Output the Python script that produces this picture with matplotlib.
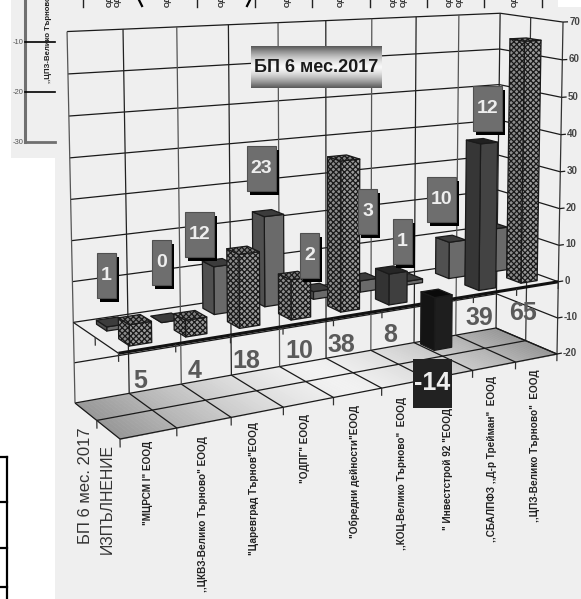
#!/usr/bin/env python3
"""3-D column chart: БП 6 мес.2017 against ИЗПЪЛНЕНИЕ, per municipal company."""

import numpy as np
import matplotlib
matplotlib.use("Agg")
import matplotlib.pyplot as plt
from matplotlib.patches import Rectangle
from mpl_toolkits.mplot3d import proj3d
from mpl_toolkits.mplot3d.art3d import Poly3DCollection

W, H = 581, 599

categories = ['"МЦРСМ I" ЕООД', ',,ЦКВЗ-Велико Търново" ЕООД', '"Царевград Търнов"ЕООД',
              '"ОДПГ" ЕООД', '"Обредни дейности"ЕООД', ',,КОЦ-Велико Търново"  ЕООД',
              '" Инвестстрой 92 "ЕООД', ',,СБАЛПФЗ ,,Д-р Трейман"  ЕООД',
              ',,ЦПЗ-Велико Търново"  ЕООД']
series_names = ["ИЗПЪЛНЕНИЕ", "БП 6 мес. 2017"]
actual = [5, 4, 18, 10, 38, 8, -14, 39, 65]
budget = [1, 0, 12, 23, 2, 3, 1, 10, 12]
value_ticks = [-20, -10, 0, 10, 20, 30, 40, 50, 60, 70]
title = "БП 6 мес.2017"

# layout, in picture pixels
actual_label_xy = [(140, 381), (195, 371), (246, 361), (299, 351), (341, 345),
                   (390, 335), (432, 383), (479, 318), (523, 313)]
budget_box_xy = [(106.5, 253), (161.5, 240), (199.5, 212), (261.5, 146), (309.5, 233),
                 (367.5, 189), (402.5, 219), (441.5, 177), (487.5, 86)]
cat_label_xy = [(148, 441), (203, 436), (254, 422), (305, 414), (355, 405),
                (402, 397), (448, 408), (492, 376), (535, 370)]

BG = "#efefef"
plt.rcParams["font.family"] = ["Liberation Sans", "DejaVu Sans"]
plt.rcParams["hatch.linewidth"] = 0.9

fig = plt.figure(figsize=(W / 100, H / 100), dpi=100, facecolor="white")


def pixel_axes(zorder):
    ax = fig.add_axes([0, 0, 1, 1], zorder=zorder)
    ax.set_xlim(0, W)
    ax.set_ylim(H, 0)
    ax.axis("off")
    return ax


# --- what is behind the chart ------------------------------------------------
back = pixel_axes(0)
back.add_patch(Rectangle((55, 0), W - 55, H, color=BG, lw=0))
back.add_patch(Rectangle((11, 0), 44, 158, color=BG, lw=0))
back.add_patch(Rectangle((558, 0), W - 558, 7, color="white", lw=0))
back.plot([25, 25], [0, 142], color="#707070", lw=2.2)
for y, lab, col in [(42, "-10", "black"), (92, "-20", "black"), (142, "-30", "#707070")]:
    back.plot([25, 55], [y, y], color=col, lw=1.2 if col == "black" else 2)
    back.text(18, y, lab, ha="center", va="center", fontsize=5.5, color="#555555")
back.text(49, 83, ",,ЦПЗ-Велико Търново", rotation=90, ha="center", va="bottom",
          fontsize=5.6, fontweight="bold", color="#222222")
for x in [83, 197, 255, 312, 370, 427, 484, 542]:
    back.plot([x, x], [0, 7], color="#222222", lw=1)
back.plot([139, 142], [0, 6], color="black", lw=1.6)
back.plot([247, 250], [6, 0], color="black", lw=1.6)
for x in [110, 118, 168, 222, 288, 341, 394, 404, 450, 460, 515]:
    back.text(x, 7, "ОД", rotation=90, ha="center", va="bottom", fontsize=5.5,
              fontweight="bold", color="#222222")
# piece of a table at the lower left
back.plot([7, 7], [457, H], color="black", lw=1.6)
for y in [457, 502, 548, 587]:
    back.plot([0, 7], [y, y], color="black", lw=1.6)

# --- the 3-D part ------------------------------------------------------------
ax = fig.add_axes([0, 0, 1, 1], projection="3d", zorder=1, computed_zorder=False)
ax.patch.set_alpha(0)
ax.set_axis_off()
ax.set_proj_type("ortho")  # only so that lines are not clipped to the unit cube

# camera fitted to the corners of the original box: u, v, w are 0..1 along
# category, series and value
cam_x = [545, -40.04, -10.6, 120]
cam_y = [-16.36, -9.36, -397, 439]
cam_d = [0.1939, 0.0661, -0.0316, 1]
to_unit = np.array([[1 / 9, 0, 0, 0], [0, 1 / 2, 0, 0], [0, 0, 1 / 90, 20 / 90], [0, 0, 0, 1]])
cam = np.array([cam_x, H * np.array(cam_d) - np.array(cam_y), [0, 1, 0, 0], cam_d])
proj = cam @ to_unit
ax.get_proj = lambda: proj
# apply_aspect keeps the 3-D axes square, so it sits 9 px in from top and bottom
ax.viewLim.intervalx = (0, W)
ax.viewLim.intervaly = (9, H - 9)


def line3(xs, ys, zs, color="#1a1a1a", lw=0.9, z=1):
    ax.plot(xs, ys, zs, color=color, lw=lw, zorder=z, solid_capstyle="butt")


def face(verts, fc, ec="#1a1a1a", z=2.0, lw=0.9, hatch=None):
    poly = Poly3DCollection([verts], facecolors=fc, edgecolors=ec, linewidths=lw, hatch=hatch)
    poly.set_zorder(z)
    ax.add_collection3d(poly, autolim=False)


z_lo, z_hi = value_ticks[0], value_ticks[-1]
n_cat = len(categories)

# floor, lighter in the middle
strips = np.linspace(0, n_cat, 121)
for a, b in zip(strips[:-1], strips[1:]):
    t = abs((a + b) / n_cat - 1)
    g = 0.95 - 0.36 * t ** 1.4
    c = (g, g, g)
    face([(a, 0, z_lo), (b, 0, z_lo), (b, 2, z_lo), (a, 2, z_lo)], c, ec=c, z=1.0, lw=0.4)

# walls
for v in value_ticks:
    line3([0, n_cat, n_cat], [2, 2, 0], [v, v, v], z=1.2)
for i in range(n_cat + 1):
    col = "#555555" if i % 2 == 0 else "#222222"
    line3([i, i], [2, 2], [z_lo, z_hi], color=col, z=1.2)
line3([n_cat, n_cat], [1, 1], [z_lo, z_hi], color="#333333", z=1.2)
line3([n_cat, n_cat], [0, 0], [z_lo, z_hi], color="#333333", z=1.2)
# floor grid and bottom edges
for i in range(n_cat + 1):
    line3([i, i], [0, 2], [z_lo, z_lo], z=1.3)
    line3([i, i], [0, 0], [z_lo, z_lo - 2], color="#333333", z=1.3)
line3([0, n_cat], [1, 1], [z_lo, z_lo], z=1.3)
line3([0, n_cat], [0, 0], [z_lo, z_lo], z=1.3)
line3([0, 0], [1, 1], [z_lo, z_lo - 2], color="#333333", z=1.3)
line3([0, 0], [0, 2], [0, 0], z=1.3)
line3([0, 0], [1, 1], [0, -2], color="#333333", z=1.3)
for v in value_ticks:
    line3([n_cat, n_cat + 0.12], [0, 0], [v, v], z=1.3)

BAR_W, BAR_D = 0.39, 0.46


def bar(i, row, value, front, side, top, hatch=None, z=2.0):
    x0, x1 = i + 0.5 - BAR_W / 2, i + 0.5 + BAR_W / 2
    y0, y1 = row + 0.5 - BAR_D / 2, row + 0.5 + BAR_D / 2
    z0, z1 = 0, value
    if value < 0:
        z0, z1 = value, 0
    face([(x0, y0, z0), (x1, y0, z0), (x1, y0, z1), (x0, y0, z1)], front, z=z, hatch=hatch)
    face([(x0, y1, z0), (x0, y0, z0), (x0, y0, z1), (x0, y1, z1)], side, z=z, hatch=hatch)
    face([(x0, y0, z1), (x1, y0, z1), (x1, y1, z1), (x0, y1, z1)], top, z=z, hatch=hatch)


# painted far to near: back row first, then right to left
for i in range(n_cat - 1, -1, -1):
    bar(i, 1, budget[i], "#6a6a6a", "#505050", "#3c3c3c", z=2 + (n_cat - i) * 0.01)

line3([0, n_cat], [0, 0], [0, 0], color="#111111", lw=2.2, z=3)
for i in range(n_cat + 1):
    line3([i, i], [0, 0], [0, -2], color="#333333", z=3)

actual_faces = {5: ("#3f3f3f", "#333333", "#262626"),
                6: ("#1e1e1e", "#141414", "#0a0a0a"),
                7: ("#434343", "#363636", "#202020")}
for i in range(n_cat - 1, -1, -1):
    z = 4 + (n_cat - i) * 0.01
    if i in actual_faces:
        bar(i, 0, actual[i], *actual_faces[i], z=z)
    else:
        bar(i, 0, actual[i], "#9a9a9a", "#8c8c8c", "#808080", hatch="xxxxxx", z=z)

# --- texts and boxes on top --------------------------------------------------
top = pixel_axes(2)

# value axis labels follow the camera
for v in value_ticks:
    px, py, _ = proj3d.proj_transform(n_cat + 0.15, 0, v, proj)
    top.text(px, H - py, str(v), ha="left", va="center", fontsize=7,
             fontweight="bold", color="#444444")

for name, x, y, fs in zip(series_names, [107, 86], [444, 427], [11.4, 12]):
    top.text(x, y, name, rotation=90, ha="center", va="top", fontsize=fs, color="#333333")
for name, (x, y) in zip(categories, cat_label_xy):
    top.text(x, y, name, rotation=90, ha="center", va="top", fontsize=7.2,
             fontweight="bold", color="#222222")

for val, (x, y) in zip(actual, actual_label_xy):
    if val < 0:
        top.add_patch(Rectangle((x - 19.5, y - 24.5), 39, 49, color="#222222", lw=0))
        top.text(x, y, str(val), ha="center", va="center", fontsize=18,
                 fontweight="bold", color="#eeeeee")
    else:
        top.text(x, y, str(val), ha="center", va="center", fontsize=18,
                 fontweight="bold", color="#5a5a5a")

for val, (x, y) in zip(budget, budget_box_xy):
    w = 19 if abs(val) < 10 else 29
    top.add_patch(Rectangle((x - w / 2 + 3, y + 4), w, 45, color="black", lw=0))
    top.add_patch(Rectangle((x - w / 2, y), w, 45, fc="#6e6e6e", ec="#505050", lw=0.8))
    top.text(x, y + 22.5, str(val), ha="center", va="center", fontsize=14,
             fontweight="bold", color="#eeeeee")

# title box with its grey band
shade = 0.35 + 0.62 * (1 - np.abs(np.linspace(-1, 1, 64)) ** 1.5)
top.imshow(shade[:, None], cmap="gray", vmin=0, vmax=1, extent=(251, 382, 88, 46), aspect="auto")
top.set_xlim(0, W)
top.set_ylim(H, 0)
top.text(316.5, 67, title, ha="center", va="center", fontsize=13,
         fontweight="bold", color="#1a1a1a")

fig.savefig("out.png", dpi=100)
